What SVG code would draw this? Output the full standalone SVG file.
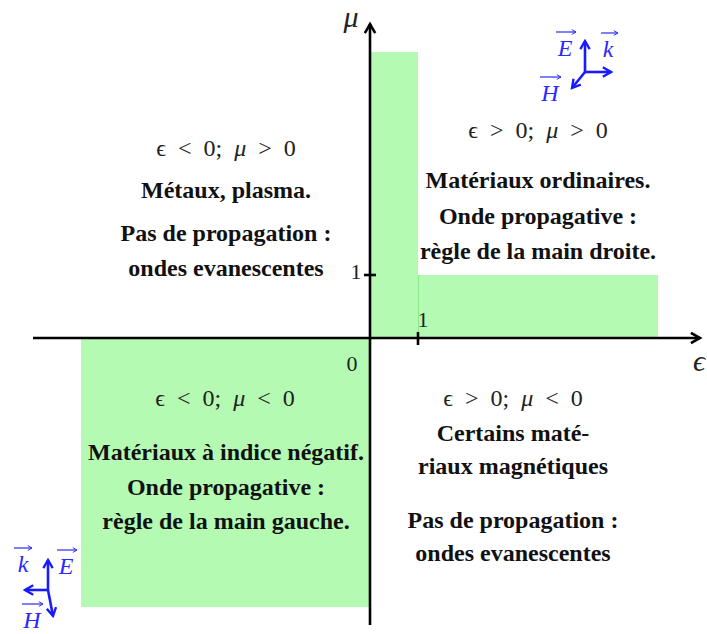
<svg xmlns="http://www.w3.org/2000/svg" width="707" height="634" viewBox="0 0 707 634">
<style>
.t{font-family:"Liberation Serif","DejaVu Serif",serif;font-size:24px;fill:#111;text-anchor:middle;font-weight:bold}
.m{font-family:"Liberation Serif","DejaVu Serif",serif;font-size:24px;fill:#222;text-anchor:middle;word-spacing:6px}
.i{font-style:italic}
.n{font-family:"Liberation Serif","DejaVu Serif",serif;font-size:22px;fill:#222;text-anchor:middle}
.big{font-size:30px}
.v{font-family:"Liberation Serif","DejaVu Serif",serif;font-size:24px;font-style:italic;fill:#2a2aff;text-anchor:middle}
.ax{stroke:#000;stroke-width:2.6;fill:none}
.vec{stroke:#1a1aff;stroke-width:2.6;fill:none}
.ov{stroke:#2a2aff;stroke-width:1.2;fill:none}
.g{fill:#b4fab2}
</style>
<defs>
<marker id="ah" viewBox="0 0 10 10" refX="8" refY="5" markerWidth="5" markerHeight="5" orient="auto" markerUnits="strokeWidth">
<path d="M1,1 L8,5 L1,9" fill="none" stroke="#000" stroke-width="2"/>
</marker>
<marker id="bh" viewBox="0 0 10 10" refX="8" refY="5" markerWidth="4.5" markerHeight="4.5" orient="auto" markerUnits="strokeWidth">
<path d="M1,1 L8,5 L1,9" fill="none" stroke="#1a1aff" stroke-width="2"/>
</marker>
<marker id="oh" viewBox="0 0 10 10" refX="9" refY="5" markerWidth="5" markerHeight="5" orient="auto" markerUnits="strokeWidth">
<path d="M2,1 L9,5 L2,9" fill="none" stroke="#2a2aff" stroke-width="1.6"/>
</marker>
</defs>
<rect width="707" height="634" fill="#fff"/>
<g id="regions">
<rect class="g" x="370" y="52" width="48" height="286"/>
<rect class="g" x="418" y="275" width="240" height="63"/>
<line x1="418.5" y1="275" x2="418.5" y2="338" stroke="#8ee88a" stroke-width="1"/>
<rect class="g" x="81" y="338" width="289" height="269"/>
</g>
<g id="axes">
<line class="ax" x1="33" y1="338" x2="700" y2="338" marker-end="url(#ah)"/>
<line class="ax" x1="370" y1="625" x2="370" y2="24" marker-end="url(#ah)"/>
<line class="ax" x1="364" y1="275" x2="376" y2="275" stroke-width="1.5"/>
<line class="ax" x1="418" y1="332" x2="418" y2="345" stroke-width="1.5"/>
<text class="n i big" x="351" y="27">μ</text>
<text class="n i big" x="699" y="371">ϵ</text>
<text class="n" x="356" y="279">1</text>
<text class="n" x="423" y="327">1</text>
<text class="n" x="352" y="371">0</text>
</g>
<g id="q1">
<text class="m" x="226" y="156">ϵ &lt; 0; <tspan class="i">μ</tspan> &gt; 0</text>
<text class="t" x="226" y="198">Métaux, plasma.</text>
<text class="t" x="226" y="241">Pas de propagation :</text>
<text class="t" x="226" y="276">ondes evanescentes</text>
</g>
<g id="q2">
<text class="m" x="538" y="138">ϵ &gt; 0; <tspan class="i">μ</tspan> &gt; 0</text>
<text class="t" x="538" y="188">Matériaux ordinaires.</text>
<text class="t" x="538" y="224">Onde propagative :</text>
<text class="t" x="538" y="259">règle de la main droite.</text>
</g>
<g id="q3">
<text class="m" x="225" y="406">ϵ &lt; 0; <tspan class="i">μ</tspan> &lt; 0</text>
<text class="t" x="226" y="460">Matériaux à indice négatif.</text>
<text class="t" x="226" y="495">Onde propagative :</text>
<text class="t" x="226" y="529">règle de la main gauche.</text>
</g>
<g id="q4">
<text class="m" x="513" y="406">ϵ &gt; 0; <tspan class="i">μ</tspan> &lt; 0</text>
<text class="t" x="513" y="441">Certains maté-</text>
<text class="t" x="513" y="474">riaux magnétiques</text>
<text class="t" x="513" y="528">Pas de propagation :</text>
<text class="t" x="513" y="561">ondes evanescentes</text>
</g>
<g id="triad-right">
<line class="vec" x1="585" y1="72" x2="585" y2="41" marker-end="url(#bh)"/>
<line class="vec" x1="585" y1="72" x2="611" y2="72" marker-end="url(#bh)"/>
<line class="vec" x1="585" y1="72" x2="572" y2="88" marker-end="url(#bh)"/>
<text class="v" x="565" y="56">E</text>
<line class="ov" x1="556" y1="32" x2="576" y2="32" marker-end="url(#oh)"/>
<text class="v" x="608" y="57">k</text>
<line class="ov" x1="601" y1="33" x2="618" y2="33" marker-end="url(#oh)"/>
<text class="v" x="550" y="101">H</text>
<line class="ov" x1="540" y1="77" x2="561" y2="77" marker-end="url(#oh)"/>
</g>
<g id="triad-left">
<line class="vec" x1="48" y1="590" x2="48" y2="560" marker-end="url(#bh)"/>
<line class="vec" x1="48" y1="590" x2="25" y2="590" marker-end="url(#bh)"/>
<line class="vec" x1="48" y1="590" x2="53" y2="616" marker-end="url(#bh)"/>
<text class="v" x="23" y="572">k</text>
<line class="ov" x1="14" y1="548" x2="32" y2="548" marker-end="url(#oh)"/>
<text class="v" x="66" y="574">E</text>
<line class="ov" x1="57" y1="550" x2="77" y2="550" marker-end="url(#oh)"/>
<text class="v" x="32" y="628">H</text>
<line class="ov" x1="22" y1="604" x2="43" y2="604" marker-end="url(#oh)"/>
</g>
</svg>
